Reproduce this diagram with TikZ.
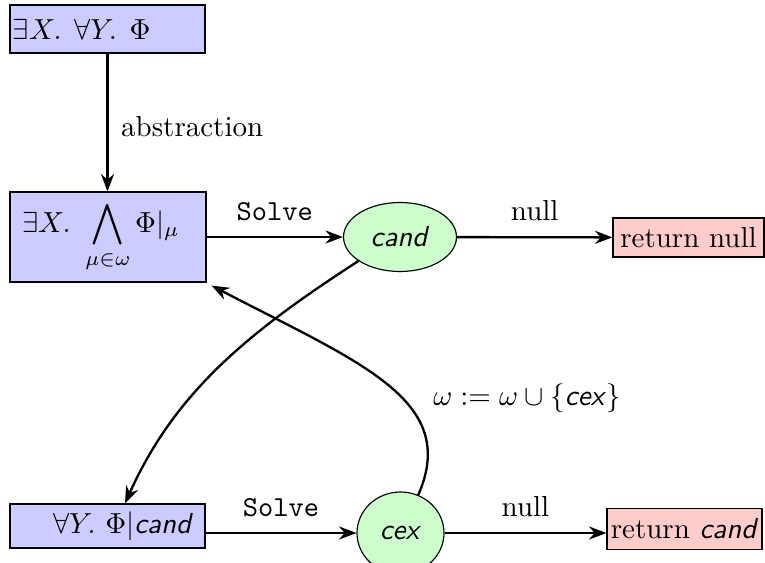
\documentclass[tikz,border=0pt]{standalone}
\usepackage{graphicx}
\usetikzlibrary{shapes.geometric,arrows.meta,calc}
\newcommand{\sfit}[1]{\textsf{\textit{#1}}}
\begin{document}
\begin{tikzpicture}[x=0.345pt,y=-0.345pt,
  bluebox/.style={draw=black, fill=blue!20, rectangle, inner ysep=0pt},
  pinkbox/.style={draw=black, fill=red!20, rectangle, inner sep=0pt},
  greenell/.style={draw=black, fill=green!20, ellipse, inner sep=0pt},
  arr/.style={-{Stealth[length=6pt,width=4.5pt]}, line width=0.8pt}]
\useasboundingbox (0,0) rectangle (765,563);

\node[bluebox, minimum width=195*0.345pt, minimum height=48*0.345pt,
      inner xsep=3*0.345pt, text width=189*0.345pt, align=left]
      (top) at (107.5,29) {$\exists X.\ \mkern1.8mu\forall Y.\ \mkern1.8mu\Phi$};
\node[bluebox, minimum width=196*0.345pt, minimum height=90*0.345pt,
      inner xsep=12*0.345pt, text width=172*0.345pt, align=left]
      (mid) at (108,237) {$\displaystyle\exists X.\ \bigwedge_{\mu\in\omega}\Phi|_{\mu}$};
\node[bluebox, minimum width=195*0.345pt, minimum height=44*0.345pt,
      inner xsep=12*0.345pt, text width=171*0.345pt, align=right]
      (bot) at (107.5,526) {$\forall Y.\ \Phi|$\sfit{cand}};

\node[greenell, minimum width=113*0.345pt, minimum height=69*0.345pt]
      (cand) at (400,237) {\sfit{cand}};
\node[greenell, minimum width=87*0.345pt, minimum height=82*0.345pt]
      (cex) at (400.5,533) {\sfit{cex}};

\node[pinkbox, minimum width=151*0.345pt, minimum height=39*0.345pt]
      (rnull) at (688.5,237.5) {return null};
\node[pinkbox, minimum width=155*0.345pt, minimum height=41*0.345pt]
      (rcand) at (684.5,529) {return \sfit{cand}};

\draw[arr] (top.south) -- node[right=1pt, pos=0.53] {abstraction} (top.south |- mid.north);
\draw[arr] (mid) -- node[above=2pt] {\texttt{Solve}} (cand);
\draw[arr] (cand) -- node[above=2pt] {null} (rnull);
\draw[arr] (cex.west -| bot.east) -- node[above=2pt] {\texttt{Solve}} (cex.west);
\draw[arr] (cex.east) -- node[above=2pt] {null} (rcand.west |- cex.east);

\draw[arr] (cand.210) .. controls (247,333) and (174.5,393) .. ([xshift=17.5*0.345pt]bot.north);
\draw[arr] (cex.65) .. controls (460,400) and (360,363) .. ([shift={(5,3)}]mid.south east);
\node (upd) at (527,398) {$\omega := \omega \cup \{\textsf{\textit{cex}}\}$};
\end{tikzpicture}
\end{document}
